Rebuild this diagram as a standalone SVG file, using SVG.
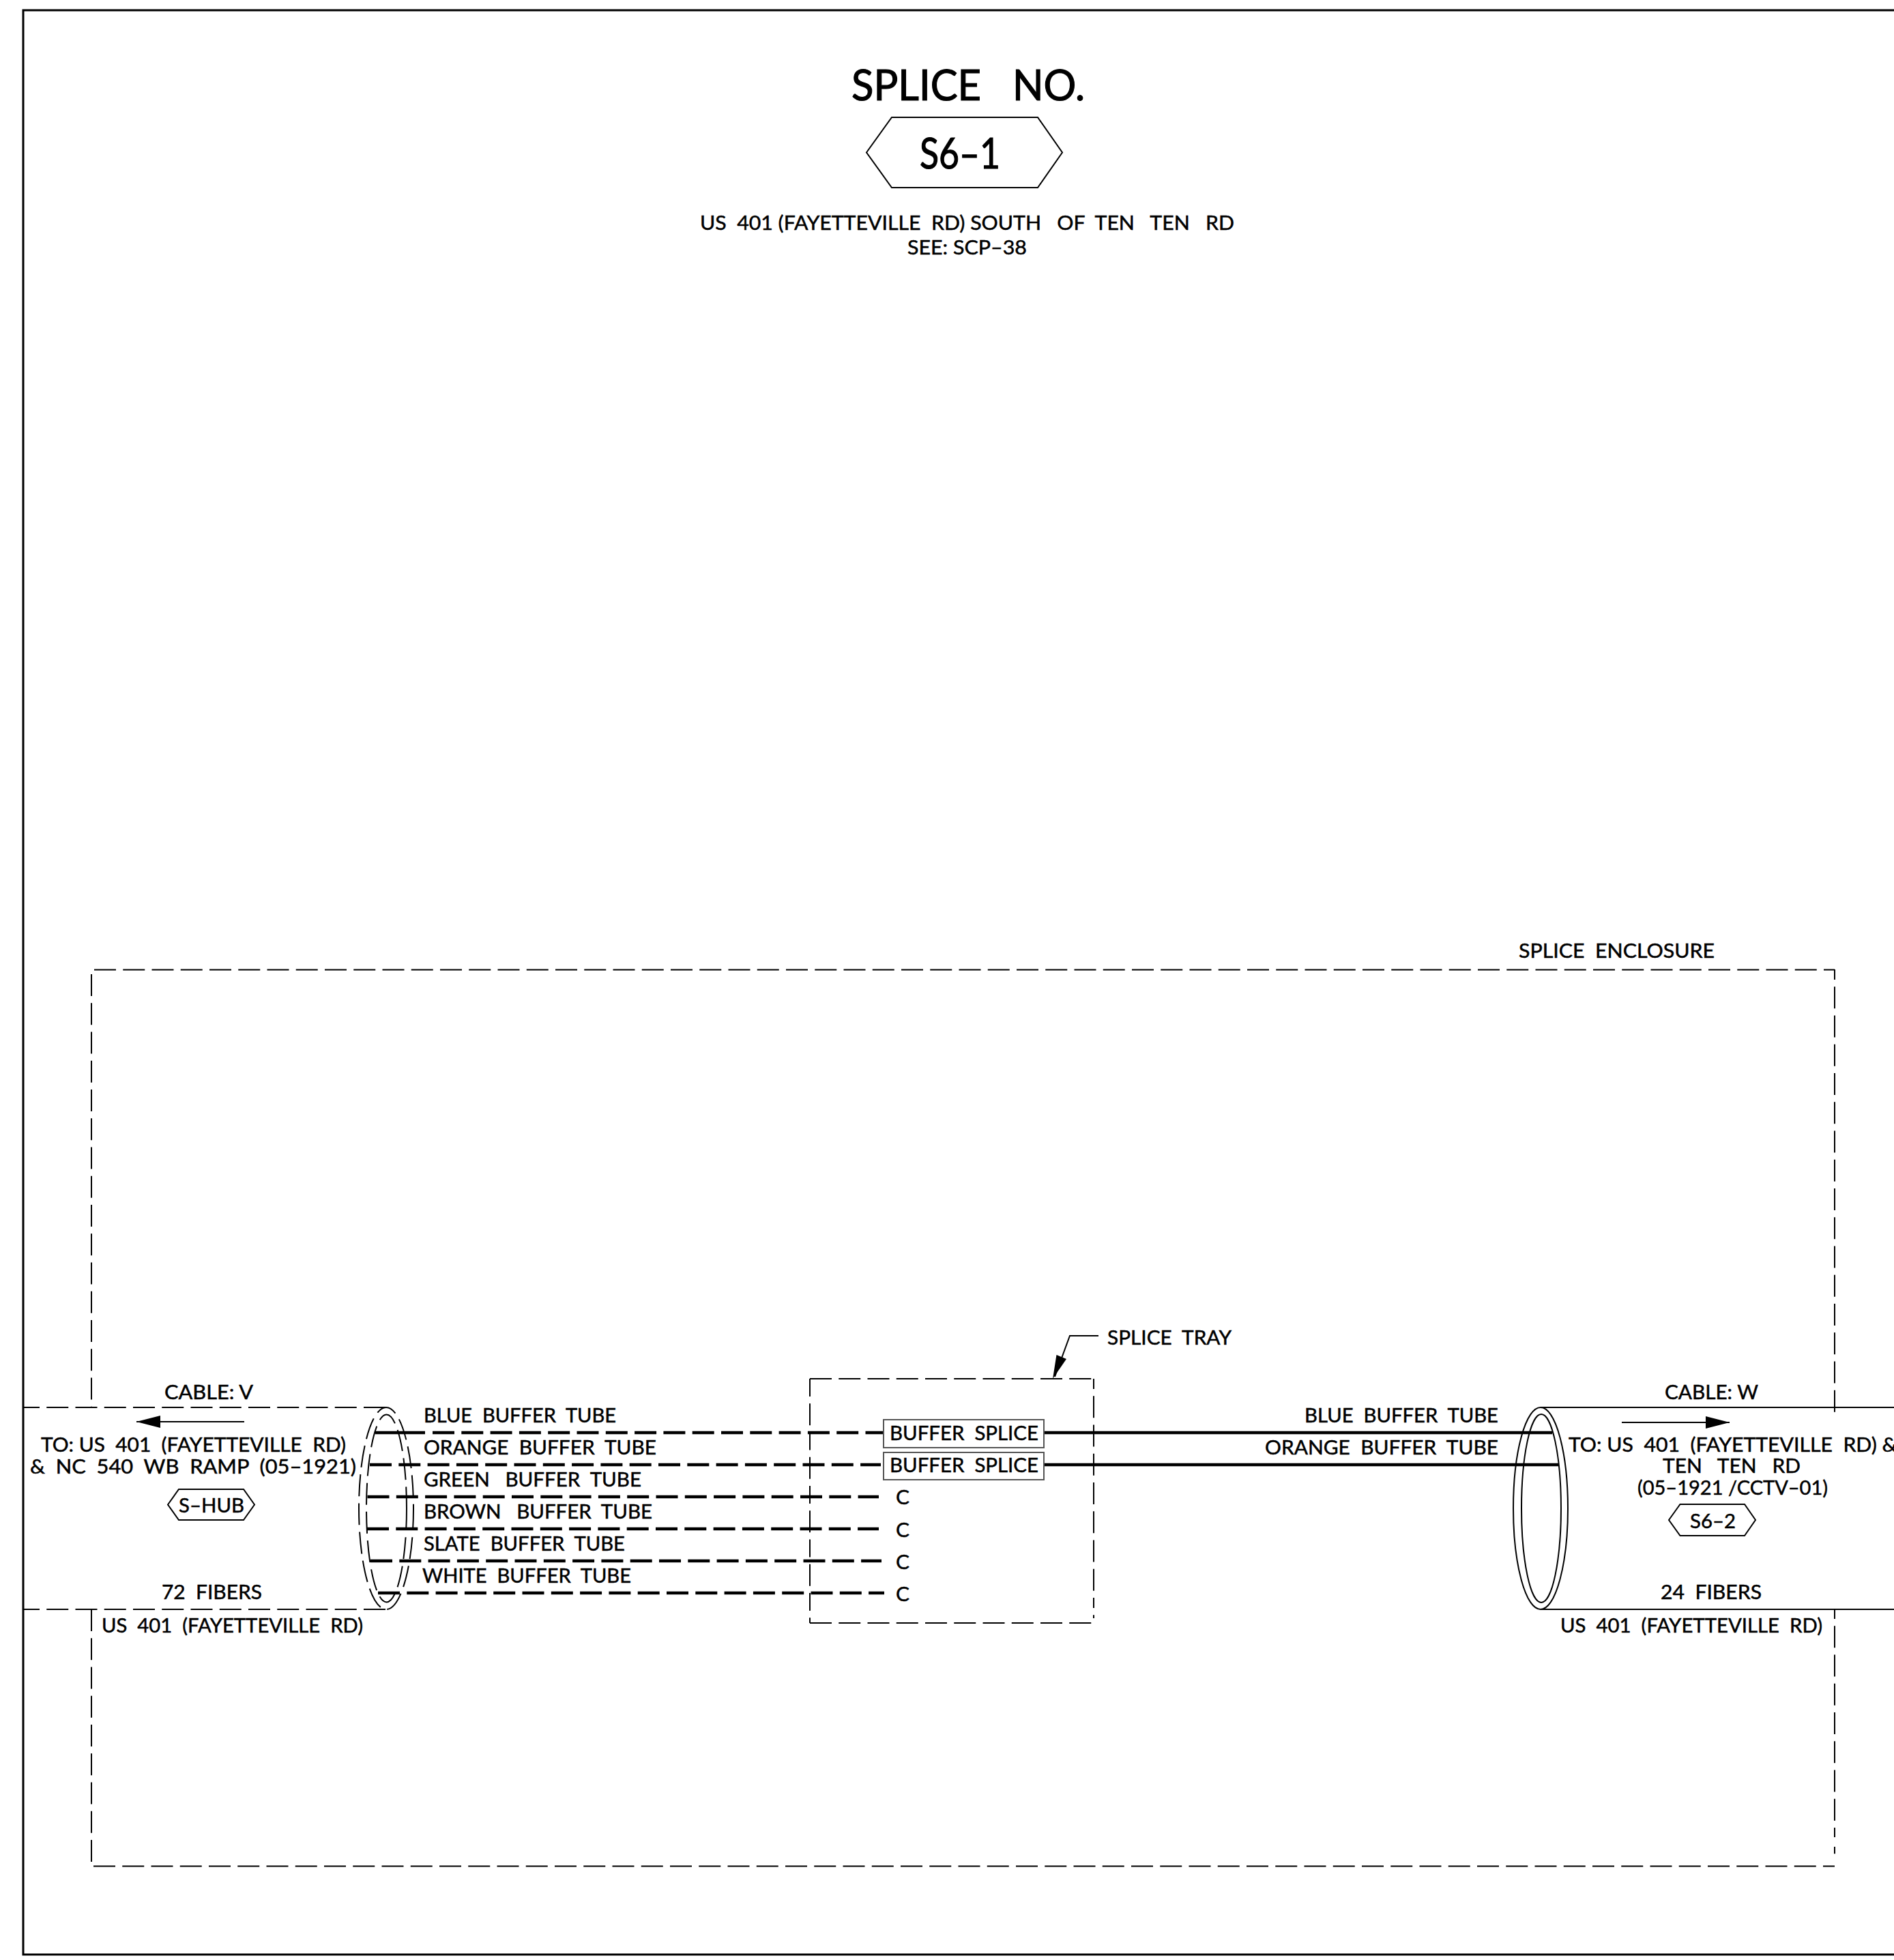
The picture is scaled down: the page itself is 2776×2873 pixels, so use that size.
<svg xmlns="http://www.w3.org/2000/svg" width="2776" height="2873" viewBox="0 0 2776 2873">
<style>
text{font-family:"Lato","Liberation Sans",sans-serif;font-size:29px;fill:#000;white-space:pre;stroke:#000;stroke-width:.5px}
.big{font-size:62px;stroke-width:1.2px}
.ln{fill:none;stroke:#000;stroke-width:2}
.dash{stroke-dasharray:32 10.25}
.tube{fill:none;stroke:#000;stroke-width:4.5;stroke-dasharray:32 10.3}
.solid{fill:none;stroke:#000;stroke-width:4.5}
.hex{fill:#fff;stroke:#000;stroke-width:2}
.box{fill:#fff;stroke:#555;stroke-width:2}
</style>
<defs>
<marker id="tip" markerUnits="userSpaceOnUse" markerWidth="36" markerHeight="18" refX="35" refY="9" orient="auto"><path d="M0 0L35 9L0 18Z" fill="#000"/></marker>
</defs>
<rect width="2776" height="2873" fill="#fff"/>
<path id="frame" d="M2776 15H34V2865H2776" fill="none" stroke="#000" stroke-width="3"/>
<g id="splice-enclosure">
<path class="ln dash" d="M138 1421.5H2689"/>
<path class="ln dash" d="M137 2735.5H2689"/>
<path class="ln dash" d="M134 1428V2064"/>
<path class="ln dash" d="M134 2359V2735"/>
<path class="ln" stroke-dasharray="15 10.25 32 10.25 32 10.25 32 10.25 32 10.25 32 10.25 32 10.25 32 10.25 32 10.25 32 10.25 32 10.25 32 10.25 32 10.25 32 10.25 32 10.25 32 10.25" d="M2689 1421V2070"/>
<path class="ln" stroke-dasharray="14 10.25 32 10.25 32 10.25 32 10.25 32 10.25 32 10.25 32 10.25 32 10.25 14" d="M2689 2359V2736"/>
<text x="2226" y="1404" textLength="287" lengthAdjust="spacingAndGlyphs">SPLICE  ENCLOSURE</text>
</g>
<g id="splice-tray">
<path class="ln dash" d="M1187 2021H1603"/>
<path class="ln dash" d="M1187 2379H1602"/>
<path class="ln" stroke-dasharray="26 10.25 32 10.25" d="M1187 2021V2379"/>
<path class="ln" stroke-dasharray="15 10.25 32 10.25 32 10.25 32 10.25 32 10.25 32 10.25 32 10.25 32 10.25" d="M1603 2021V2372"/>
<text x="1623" y="1971" textLength="182" lengthAdjust="spacingAndGlyphs">SPLICE  TRAY</text>
</g>
<g id="connectors">
<path class="ln" d="M1610 1958H1568L1546 2018"/>
<path d="M1543 2021L1548.500 1986L1563 1992Z" fill="#000"/>
<path class="ln dash" d="M565 2063H33"/>
<path class="ln dash" d="M565 2359H33"/>
<path class="ln" d="M2258 2063H2776M2258 2359H2776"/>
<path class="solid" d="M550 2100H623"/>
<path class="tube" d="M634 2100H1295"/>
<path class="tube" d="M542 2147H1291"/>
<path class="tube" d="M538 2194H1288" stroke-dashoffset="-0.5"/>
<path class="tube" d="M538 2241H1288"/>
<path class="tube" d="M543 2288H1292"/>
<path class="tube" d="M554 2335H1296"/>
<path class="solid" d="M1530 2100H2275M1530 2147H2284"/>
<path class="ln" d="M358 2084H200" marker-end="url(#tip)"/>
<path class="ln" d="M2377 2085H2535" marker-end="url(#tip)"/>
</g>
<g id="cable-v-end">
<ellipse class="ln dash" cx="566" cy="2211" rx="40" ry="148"/>
<ellipse class="ln dash" cx="566.500" cy="2211" rx="29.500" ry="137.500"/>
</g>
<g id="cable-w-end">
<ellipse class="ln" cx="2258" cy="2211" rx="40" ry="148"/>
<ellipse class="ln" cx="2259" cy="2211" rx="29" ry="138"/>
</g>
<g id="title">
<text class="big" x="1248" y="147" textLength="342" lengthAdjust="spacingAndGlyphs">SPLICE   NO.</text>
</g>
<g id="hex-s6-1">
<path class="hex" d="M1270 223.500L1307 172H1521L1557 223.500L1521 275H1307Z"/>
<text class="big" x="1348" y="247" textLength="118" lengthAdjust="spacingAndGlyphs">S6–1</text>
</g>
<g id="location">
<text x="1026" y="337" textLength="783" lengthAdjust="spacingAndGlyphs">US  401 (FAYETTEVILLE  RD) SOUTH   OF  TEN   TEN   RD</text>
<text x="1330" y="373" textLength="175" lengthAdjust="spacingAndGlyphs">SEE: SCP–38</text>
</g>
<g id="cable-v">
<text x="241" y="2051" textLength="130" lengthAdjust="spacingAndGlyphs">CABLE: V</text>
<text x="60" y="2128" textLength="447" lengthAdjust="spacingAndGlyphs">TO: US  401  (FAYETTEVILLE  RD)</text>
<text x="44" y="2160" textLength="478" lengthAdjust="spacingAndGlyphs">&amp;  NC  540  WB  RAMP  (05–1921)</text>
<text x="237" y="2344" textLength="147" lengthAdjust="spacingAndGlyphs">72  FIBERS</text>
<text x="149" y="2393" textLength="383" lengthAdjust="spacingAndGlyphs">US  401  (FAYETTEVILLE  RD)</text>
</g>
<g id="hex-s-hub">
<path class="hex" d="M246 2205.500L262 2183H357L373 2205.500L357 2228H262Z"/>
<text x="262" y="2217" textLength="96" lengthAdjust="spacingAndGlyphs">S–HUB</text>
</g>
<g id="buffer-labels-left">
<text x="621" y="2085" textLength="282" lengthAdjust="spacingAndGlyphs">BLUE  BUFFER  TUBE</text>
<text x="621" y="2132" textLength="341" lengthAdjust="spacingAndGlyphs">ORANGE  BUFFER  TUBE</text>
<text x="621" y="2179" textLength="319" lengthAdjust="spacingAndGlyphs">GREEN   BUFFER  TUBE</text>
<text x="621" y="2226" textLength="335" lengthAdjust="spacingAndGlyphs">BROWN   BUFFER  TUBE</text>
<text x="621" y="2273" textLength="295" lengthAdjust="spacingAndGlyphs">SLATE  BUFFER  TUBE</text>
<text x="619" y="2320" textLength="306" lengthAdjust="spacingAndGlyphs">WHITE  BUFFER  TUBE</text>
</g>
<g id="buffer-splice-1">
<rect class="box" x="1295" y="2081" width="235" height="41"/>
<text x="1304" y="2111" textLength="218" lengthAdjust="spacingAndGlyphs">BUFFER  SPLICE</text>
</g>
<g id="buffer-splice-2">
<rect class="box" x="1295" y="2129" width="235" height="40"/>
<text x="1304" y="2158" textLength="218" lengthAdjust="spacingAndGlyphs">BUFFER  SPLICE</text>
</g>
<g id="caps">
<text x="1313" y="2205" textLength="20" lengthAdjust="spacingAndGlyphs">C</text>
<text x="1313" y="2253" textLength="20" lengthAdjust="spacingAndGlyphs">C</text>
<text x="1313" y="2300" textLength="20" lengthAdjust="spacingAndGlyphs">C</text>
<text x="1313" y="2347" textLength="20" lengthAdjust="spacingAndGlyphs">C</text>
</g>
<g id="buffer-labels-right">
<text x="1912" y="2085" textLength="284" lengthAdjust="spacingAndGlyphs">BLUE  BUFFER  TUBE</text>
<text x="1854" y="2132" textLength="342" lengthAdjust="spacingAndGlyphs">ORANGE  BUFFER  TUBE</text>
</g>
<g id="cable-w">
<text x="2440" y="2051" textLength="137" lengthAdjust="spacingAndGlyphs">CABLE: W</text>
<text x="2299" y="2128" textLength="481" lengthAdjust="spacingAndGlyphs">TO: US  401  (FAYETTEVILLE  RD) &amp;</text>
<text x="2437" y="2159" textLength="202" lengthAdjust="spacingAndGlyphs">TEN   TEN   RD</text>
<text x="2400" y="2191" textLength="279" lengthAdjust="spacingAndGlyphs">(05–1921 /CCTV–01)</text>
<text x="2434" y="2344" textLength="148" lengthAdjust="spacingAndGlyphs">24  FIBERS</text>
<text x="2287" y="2393" textLength="384" lengthAdjust="spacingAndGlyphs">US  401  (FAYETTEVILLE  RD)</text>
</g>
<g id="hex-s6-2">
<path class="hex" d="M2446 2228L2462.500 2205H2557L2573 2228L2557 2251H2462.500Z"/>
<text x="2477" y="2240" textLength="67" lengthAdjust="spacingAndGlyphs">S6–2</text>
</g>
</svg>
